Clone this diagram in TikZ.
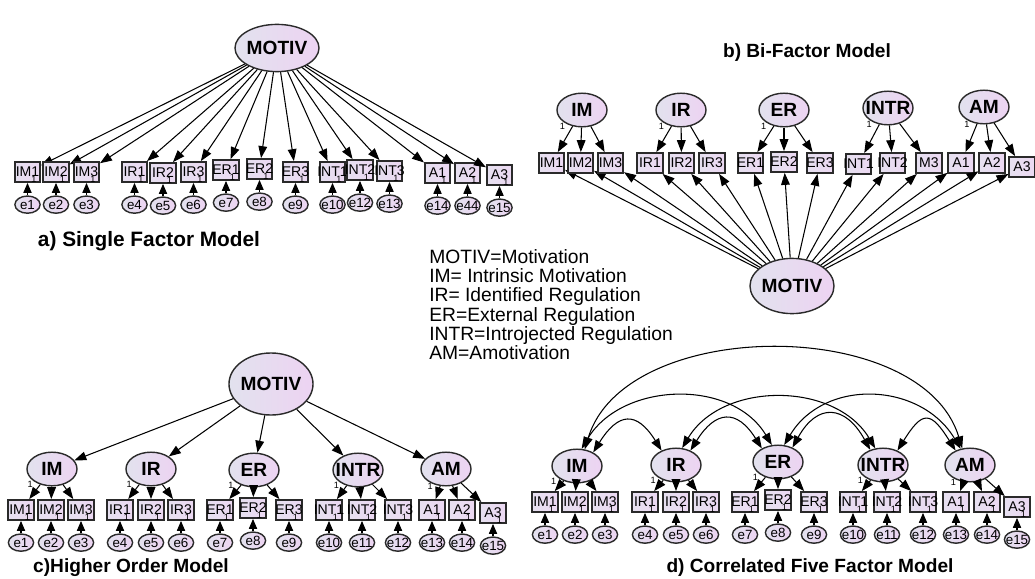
\documentclass[tikz,border=0pt]{standalone}
\usepackage{fontspec}
\setmainfont{Liberation Sans}
\usetikzlibrary{arrows.meta,positioning,shapes.geometric}
\definecolor{latL}{HTML}{E2E2EE}
\definecolor{latR}{HTML}{EDD3F2}
\definecolor{boxL}{HTML}{E6E0F0}
\definecolor{boxR}{HTML}{ECD8F2}
\definecolor{rim}{HTML}{2A2A2A}
\def\obs(#1,#2)#3#4{\node[obsbox] (#3) at (#1,#2) {#4};}
\def\err#1#2#3{\node[errcirc, below=3.1mm of #1] (#2) {#3};
	\draw[errarr] (#2) -- (#1);
	\node[onelab, anchor=south west] at ([xshift=2.5pt,yshift=0.3pt]#1.south) {1};}
\tikzset{
	latent/.style={ellipse, draw=rim, line width=1pt, left color=latL, right color=latR, inner xsep=-4pt, inner ysep=0pt, minimum width=1.25cm, minimum height=0.84cm, font=\fontsize{13.6}{14}\selectfont\bfseries},
	motiv/.style={latent, minimum width=2.1cm},
	obsbox/.style={rectangle, draw=rim, line width=1.3pt, left color=boxL, right color=boxR, inner xsep=-2.5pt, inner ysep=0pt, minimum width=0.63cm, minimum height=0.5cm, font=\fontsize{10}{10}\selectfont},
	errcirc/.style={ellipse, draw=rim, line width=1pt, left color=latL, right color=latR, inner xsep=-2pt, inner ysep=0pt, minimum width=0.63cm, minimum height=0.43cm, font=\fontsize{9.5}{10}\selectfont},
	load/.style={-{Triangle[length=8.5pt,width=6.2pt]}, line width=0.75pt},
	errarr/.style={-{Triangle[length=7pt,width=5.8pt]}, line width=0.75pt},
	cov/.style={{Triangle[length=8.5pt,width=6.2pt]}-{Triangle[length=8.5pt,width=6.2pt]}, line width=0.75pt},
	onelab/.style={inner sep=0pt, font=\fontsize{6.5}{7}\selectfont},
	paneltitle/.style={font=\fontsize{13.6}{14}\selectfont\bfseries}
}

\begin{document}
\begin{tikzpicture}[x=0.025cm, y=-0.025cm]
			%%%%% START %%%%%
			\fill[white] (0,0) rectangle (1035,579);
			\useasboundingbox (0,0) rectangle (1035,579);
			
			%% a) single factor
			\node[motiv, minimum height=1.18cm] (MOTa) at (277,48) {MOTIV};
			\foreach \x/\y/\n/\t/\e in {27.5/172/a1/IM1/e1, 56/172/a2/IM2/e2, 86.5/172/a3/IM3/e3,
				134.5/172/a4/IR1/e4, 163/173/a5/IR2/e5, 193.5/172/a6/IR3/e6,
				226/170/a7/ER1/e7, 259.5/169/a8/ER2/e8, 295.5/172/a9/ER3/e9,
				332.5/172/a10/INT1/e10, 360/170/a11/INT2/e12, 389.5/171/a12/INT3/e13,
				437.5/173/a13/A1/e14, 467.5/173/a14/A2/e44, 499.5/175/a15/A3/e15}{
				\obs(\x,\y){\n}{\t}
				\err{\n}{e\n}{\e}
				\draw[load] (MOTa) -- (\n);
			}
			\node[paneltitle, font=\fontsize{14.8}{15}\selectfont\bfseries] (ta) at (149,241) {a) Single Factor Model};
			
			%% b) bi-factor
			\node[latent] (IMb) at (582,110) {IM};
			\node[latent] (IRb) at (681,110) {IR};
			\node[latent] (ERb) at (784,110) {ER};
			\node[latent] (INTRb) at (888,108) {INTR};
			\node[latent] (AMb) at (984,107) {AM};
			\node[motiv, minimum height=1.38cm] (MOTb) at (792,286) {MOTIV};
			\foreach \x/\y/\n/\t in {551.5/163/b1/IM1, 580.5/163/b2/IM2, 610.5/163/b3/IM3,
				650/163/b4/IR1, 681.5/163/b5/IR2, 712/163/b6/IR3,
				750.5/163/b7/ER1, 784/162/b8/ER2, 820/163/b9/ER3,
				858.5/164/b10/INT1, 892.5/163/b11/INT2, 929/163/b12/M3,
				961/163/b13/A1, 992/163/b14/A2, 1022/167/b15/A3}{
				\obs(\x,\y){\n}{\t}
				\draw[load] (MOTb) -- (\n);
			}
			\node[paneltitle] (tb) at (807,53) {b) Bi-Factor Model};
			
			%% legend
			\node[anchor=north west, inner sep=0pt, align=left, font=\fontsize{13.7}{13.7}\selectfont] (legend) at (429,249)
				{MOTIV=Motivation\\IM= Intrinsic Motivation\\IR= Identified Regulation\\ER=External Regulation\\INTR=Introjected Regulation\\AM=Amotivation};
			
			%% c) higher order
			\node[motiv, minimum height=1.55cm] (MOTc) at (271,384) {MOTIV};
			\node[latent] (IMc) at (52,469) {IM};
			\node[latent] (IRc) at (151,469) {IR};
			\node[latent] (ERc) at (254,470) {ER};
			\node[latent] (INTRc) at (358,470) {INTR};
			\node[latent] (AMc) at (446,469) {AM};
			\foreach \l in {IMc,IRc,ERc,INTRc,AMc} \draw[load] (MOTc) -- (\l);
			\foreach \x/\y/\n/\t/\e in {21/510/c1/IM1/e1, 51/510/c2/IM2/e2, 81/510/c3/IM3/e3,
				120/510/c4/IR1/e4, 151/510/c5/IR2/e5, 181/510/c6/IR3/e6,
				220/510/c7/ER1/e7, 253/508/c8/ER2/e8, 289/510/c9/ER3/e9,
				329/510/c10/INT1/e10, 362/510/c11/INT2/e11, 398/510/c12/INT3/e12,
				432/510/c13/A1/e13, 462/510/c14/A2/e14, 493/513/c15/A3/e15}{
				\obs(\x,\y){\n}{\t}
				\err{\n}{e\n}{\e}
			}
			\node[paneltitle] (tc) at (131,568) {c)Higher Order Model};
			
			%% d) correlated five factor
			\node[latent] (IMd) at (577,466) {IM};
			\node[latent] (IRd) at (676,465) {IR};
			\node[latent] (ERd) at (778,462) {ER};
			\node[latent] (INTRd) at (883,465) {INTR};
			\node[latent] (AMd) at (970,465) {AM};
			\foreach \x/\y/\n/\t/\e in {545/502/d1/IM1/e1, 575/502/d2/IM2/e2, 605/502/d3/IM3/e3,
				645/502/d4/IR1/e4, 676/502/d5/IR2/e5, 706/502/d6/IR3/e6,
				745/502/d7/ER1/e7, 778/500/d8/ER2/e8, 814/502/d9/ER3/e9,
				853/502/d10/INT1/e10, 887/502/d11/INT2/e11, 923/502/d12/INT3/e12,
				956/502/d13/A1/e13, 987/502/d14/A2/e14, 1017/507/d15/A3/e15}{
				\obs(\x,\y){\n}{\t}
				\err{\n}{e\n}{\e}
			}
			\node[paneltitle] (td) at (810,568) {d) Correlated Five Factor Model};
			
			%% loadings b, c, d
			\foreach \l/\p/\q/\r in {IMb/b1/b2/b3, IRb/b4/b5/b6, ERb/b7/b8/b9, INTRb/b10/b11/b12, AMb/b13/b14/b15,
				IMc/c1/c2/c3, IRc/c4/c5/c6, ERc/c7/c8/c9, INTRc/c10/c11/c12, AMc/c13/c14/c15,
				IMd/d1/d2/d3, IRd/d4/d5/d6, ERd/d7/d8/d9, INTRd/d10/d11/d12, AMd/d13/d14/d15}{
				\draw[load] (\l) -- (\p) node[onelab, pos=0, left=5pt] {1};
				\draw[load] (\l) -- (\q);
				\draw[load] (\l) -- (\r);
			}
			
			%% covariances
			\draw[cov] (IMd.65) .. controls +(40,-133) and +(-40,-133) .. (AMd.115);
			\draw[cov] (IMd.75) .. controls +(40,-67) and +(-40,-67) .. (ERd.110);
			\draw[cov] (IMd.40) .. controls +(25,-40) and +(-25,-40) .. (IRd.135);
			\draw[cov] (IRd.45) .. controls +(25,-40) and +(-25,-40) .. (ERd.140);
			\draw[cov] (IRd.70) .. controls +(40,-67) and +(-40,-67) .. (INTRd.115);
			\draw[cov] (ERd.45) .. controls +(25,-45) and +(-25,-45) .. (INTRd.130);
			\draw[cov] (ERd.70) .. controls +(40,-67) and +(-40,-67) .. (AMd.120);
			\draw[cov] (INTRd.45) .. controls +(25,-40) and +(-25,-40) .. (AMd.135);
			
			%%%%% END %%%%%
\end{tikzpicture}
\end{document}
